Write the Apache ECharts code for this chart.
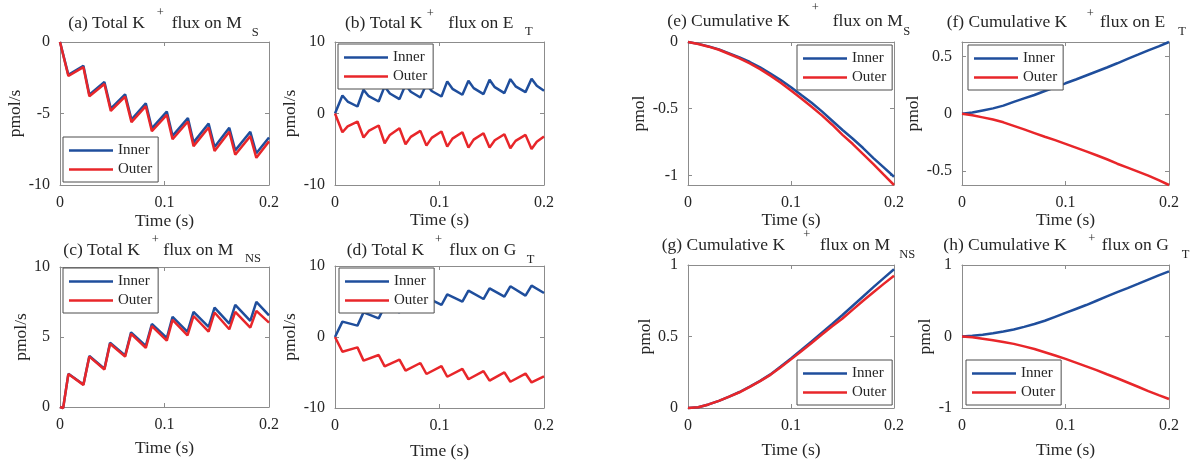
<!DOCTYPE html>
<html>
<head>
<meta charset="utf-8">
<script src="https://cdn.jsdelivr.net/npm/echarts@6/dist/echarts.min.js"></script>
<style>
  html, body { margin: 0; padding: 0; background: #ffffff; }
  #chart { width: 1190px; height: 461px; }
</style>
</head>
<body>
<div id="chart"></div>
<script>
// ---------- data (time in s) ----------
const xTicks = [0, 0.1, 0.2];

// (a) total K+ flux on M_S, pmol/s
const tA = [0, 0.008, 0.0224, 0.0281, 0.0425, 0.0486, 0.0623, 0.0684, 0.0821, 0.0879, 0.1022, 0.1077, 0.1224, 0.1278, 0.1422, 0.1479, 0.162, 0.1677, 0.1821, 0.1879, 0.2];
const innerA = [0, -2.3, -1.66, -3.68, -2.8, -4.66, -3.66, -5.42, -4.29, -6.04, -4.87, -6.56, -5.32, -7.02, -5.7, -7.34, -6.0, -7.58, -6.28, -7.78, -6.68];
const outerA = [0, -2.38, -1.76, -3.8, -2.94, -4.82, -3.82, -5.6, -4.49, -6.24, -5.09, -6.8, -5.56, -7.28, -5.98, -7.62, -6.28, -7.88, -6.58, -8.1, -6.95];
const ticksA = [-10, -5, 0];

// (b) total K+ flux on E_T, pmol/s
const tB = [0, 0.0071, 0.0121, 0.0215, 0.0273, 0.0323, 0.0418, 0.0475, 0.0525, 0.0617, 0.0675, 0.0725, 0.0817, 0.0875, 0.0925, 0.1019, 0.1074, 0.1124, 0.1219, 0.1277, 0.1327, 0.1421, 0.1479, 0.1529, 0.1621, 0.1678, 0.1728, 0.1823, 0.1881, 0.1931, 0.2];
const innerB = [0, 2.52, 1.67, 0.98, 3.32, 2.42, 1.68, 3.79, 2.8, 2.01, 4.02, 3.04, 2.24, 4.1, 3.15, 2.38, 4.49, 3.45, 2.62, 4.58, 3.55, 2.71, 4.72, 3.68, 2.85, 4.81, 3.8, 2.99, 4.86, 3.88, 3.18];
const outerB = [0, -2.62, -1.8, -1.12, -3.36, -2.44, -1.68, -4.16, -3.0, -2.06, -4.3, -3.27, -2.43, -4.49, -3.41, -2.52, -4.63, -3.52, -2.62, -4.77, -3.66, -2.76, -4.77, -3.74, -2.9, -4.86, -3.83, -2.99, -4.95, -3.95, -3.22];
const ticksB = [-10, 0, 10];

// (c) total K+ flux on M_NS, pmol/s
const tC = [0, 0.003, 0.008, 0.0224, 0.0281, 0.0425, 0.0479, 0.0623, 0.068, 0.0821, 0.0879, 0.1022, 0.1077, 0.122, 0.1278, 0.1422, 0.1479, 0.162, 0.1677, 0.1821, 0.1879, 0.2];
const innerC = [0, -0.08, 2.37, 1.6, 3.64, 2.73, 4.59, 3.68, 5.33, 4.37, 5.93, 4.93, 6.44, 5.36, 6.79, 5.72, 7.1, 5.96, 7.3, 6.15, 7.51, 6.55];
const outerC = [0, -0.08, 2.35, 1.58, 3.6, 2.68, 4.52, 3.6, 5.22, 4.22, 5.78, 4.74, 6.22, 5.12, 6.5, 5.38, 6.75, 5.55, 6.79, 5.67, 6.87, 6.03];
const ticksC = [0, 5, 10];

// (d) total K+ flux on G_T, pmol/s
const tD = [0, 0.0071, 0.0215, 0.0273, 0.0418, 0.0475, 0.0617, 0.0675, 0.0817, 0.0875, 0.1019, 0.1074, 0.1219, 0.1277, 0.1421, 0.1479, 0.1621, 0.1678, 0.1823, 0.1881, 0.2];
const innerD = [0, 2.16, 1.6, 3.47, 2.63, 4.32, 3.47, 5.0, 4.0, 5.58, 4.51, 6.0, 4.98, 6.53, 5.35, 6.85, 5.68, 7.14, 5.82, 7.23, 6.2];
const outerD = [0, -2.07, -1.46, -3.33, -2.54, -4.13, -3.19, -4.74, -3.66, -5.21, -4.1, -5.6, -4.5, -5.95, -4.8, -6.15, -4.98, -6.3, -5.15, -6.4, -5.54];
const ticksD = [-10, 0, 10];

// cumulative K+ flux, pmol
const tCum = [0, 0.01, 0.02, 0.03, 0.04, 0.05, 0.06, 0.07, 0.08, 0.09, 0.1, 0.11, 0.12, 0.13, 0.14, 0.15, 0.16, 0.17, 0.18, 0.19, 0.2];
const innerE = [0, -0.014, -0.033, -0.055, -0.085, -0.115, -0.15, -0.19, -0.237, -0.285, -0.34, -0.398, -0.455, -0.52, -0.59, -0.66, -0.725, -0.795, -0.87, -0.94, -1.01];
const outerE = [0, -0.015, -0.035, -0.058, -0.09, -0.122, -0.16, -0.203, -0.252, -0.305, -0.364, -0.423, -0.485, -0.55, -0.62, -0.696, -0.765, -0.84, -0.915, -0.995, -1.072];
const ticksE = [-1, -0.5, 0];
const innerF = [0, 0.012, 0.03, 0.048, 0.072, 0.105, 0.135, 0.165, 0.2, 0.232, 0.267, 0.3, 0.335, 0.37, 0.405, 0.442, 0.48, 0.517, 0.555, 0.59, 0.628];
const outerF = [0, -0.013, -0.031, -0.05, -0.074, -0.105, -0.136, -0.168, -0.2, -0.23, -0.262, -0.295, -0.328, -0.362, -0.397, -0.436, -0.47, -0.505, -0.54, -0.58, -0.622];
const ticksF = [-0.5, 0, 0.5];
const innerG = [0, 0.005, 0.025, 0.05, 0.08, 0.112, 0.15, 0.19, 0.235, 0.29, 0.346, 0.405, 0.465, 0.527, 0.588, 0.65, 0.715, 0.78, 0.845, 0.908, 0.97];
const outerG = [0, 0.005, 0.025, 0.05, 0.08, 0.11, 0.148, 0.188, 0.232, 0.285, 0.34, 0.397, 0.455, 0.514, 0.572, 0.626, 0.688, 0.75, 0.81, 0.868, 0.925];
const ticksG = [0, 0.5, 1];
const innerH = [0, 0.01, 0.025, 0.045, 0.07, 0.098, 0.135, 0.175, 0.22, 0.275, 0.33, 0.385, 0.44, 0.5, 0.56, 0.62, 0.677, 0.735, 0.795, 0.855, 0.91];
const outerH = [0, -0.012, -0.03, -0.052, -0.076, -0.103, -0.138, -0.175, -0.22, -0.265, -0.313, -0.365, -0.417, -0.47, -0.528, -0.584, -0.643, -0.703, -0.763, -0.82, -0.874];
const ticksH = [-1, 0, 1];

const seriesNames = ['Inner', 'Outer'];

// ---------- styling ----------
const FONT = 'Liberation Serif';
const TEXT = '#262626';
const BOX = '#8c8c8c';
const BLUE = '#1f4e9c';
const RED = '#e8262a';

// panel layout: plot box, axis limits, label gaps, legend spot, title pieces
const panels = [
  { t: tA, inner: innerA, outer: outerA, ticks: ticksA, yMin: -10, yMax: 0, yName: 'pmol/s',
    grid: { left: 60, top: 42, width: 209, height: 143 }, yGap: 31, xGap: 27, legend: { left: 63, top: 137 },
    title: [['(a) Total K', 68.3, 23.5, 'm'], ['+', 156.7, 13, 's'], ['flux on M', 171.7, 23.5, 'm'], ['S', 251.7, 33, 's']] },
  { t: tB, inner: innerB, outer: outerB, ticks: ticksB, yMin: -10, yMax: 10, yName: 'pmol/s',
    grid: { left: 335, top: 42, width: 209, height: 143 }, yGap: 32, xGap: 26, legend: { left: 338, top: 44 },
    title: [['(b) Total K', 345, 23.5, 'm'], ['+', 426.7, 14, 's'], ['flux on E', 448.3, 23.5, 'm'], ['T', 525, 32, 's']] },
  { t: tC, inner: innerC, outer: outerC, ticks: ticksC, yMin: 0, yMax: 10, yName: 'pmol/s',
    grid: { left: 60, top: 267, width: 209, height: 140 }, yGap: 29, xGap: 32, legend: { left: 63, top: 268 },
    title: [['(c) Total K', 63.3, 250, 'm'], ['+', 151.7, 240, 's'], ['flux on M', 163.3, 250, 'm'], ['NS', 245, 258.5, 's']] },
  { t: tD, inner: innerD, outer: outerD, ticks: ticksD, yMin: -10, yMax: 10, yName: 'pmol/s',
    grid: { left: 335, top: 266, width: 209, height: 142 }, yGap: 33, xGap: 34, legend: { left: 339, top: 268 },
    title: [['(d) Total K', 346.7, 250, 'm'], ['+', 435, 240, 's'], ['flux on G', 449.3, 250, 'm'], ['T', 526.7, 260, 's']] },
  { t: tCum, inner: innerE, outer: outerE, ticks: ticksE, yMin: -1.072, yMax: 0, yName: 'pmol',
    grid: { left: 688, top: 42, width: 206, height: 143 }, yGap: 31, xGap: 24, legend: { left: 797, top: 45 },
    title: [['(e) Cumulative K', 667.3, 21, 'm'], ['+', 811.7, 8, 's'], ['flux on M', 832.7, 21, 'm'], ['S', 903.3, 32, 's']] },
  { t: tCum, inner: innerF, outer: outerF, ticks: ticksF, yMin: -0.622, yMax: 0.628, yName: 'pmol',
    grid: { left: 962, top: 42, width: 207, height: 143 }, yGap: 38, xGap: 26, legend: { left: 968, top: 45 },
    title: [['(f) Cumulative K', 946.7, 22, 'm'], ['+', 1086.7, 14, 's'], ['flux on E', 1100, 22, 'm'], ['T', 1178.3, 32, 's']] },
  { t: tCum, inner: innerG, outer: outerG, ticks: ticksG, yMin: 0, yMax: 1, yName: 'pmol',
    grid: { left: 688, top: 265, width: 206, height: 143 }, yGap: 31, xGap: 33, legend: { left: 797, top: 360 },
    title: [['(g) Cumulative K', 661.7, 245, 'm'], ['+', 803.3, 235, 's'], ['flux on M', 820, 245, 'm'], ['NS', 899.3, 255, 's']] },
  { t: tCum, inner: innerH, outer: outerH, ticks: ticksH, yMin: -1, yMax: 1, yName: 'pmol',
    grid: { left: 962, top: 265, width: 207, height: 143 }, yGap: 24, xGap: 33, legend: { left: 966, top: 360 },
    title: [['(h) Cumulative K', 943.3, 245, 'm'], ['+', 1088.3, 239, 's'], ['flux on G', 1101.7, 245, 'm'], ['T', 1181.7, 255, 's']] }
];

const zip = (xs, ys) => xs.map((x, i) => [x, ys[i]]);

const boxLine = { show: true, onZero: false, lineStyle: { color: BOX, width: 1 } };
const tickStyle = (vals) => ({ show: true, inside: true, length: 4, lineStyle: { color: BOX, width: 1 }, customValues: vals });

const grids = [], xAxes = [], yAxes = [], series = [], legends = [], graphics = [];

panels.forEach((p, i) => {
  grids.push(Object.assign({ containLabel: false }, p.grid));

  // bottom and top time axes
  xAxes.push({
    type: 'value', gridIndex: i, min: 0, max: 0.2, position: 'bottom',
    axisLine: boxLine, axisTick: tickStyle(xTicks), splitLine: { show: false },
    axisLabel: { customValues: xTicks, fontFamily: FONT, fontSize: 16, color: TEXT, margin: 10 },
    name: 'Time (s)', nameLocation: 'middle', nameGap: p.xGap,
    nameTextStyle: { fontFamily: FONT, fontSize: 17.5, color: TEXT }
  });
  xAxes.push({
    type: 'value', gridIndex: i, min: 0, max: 0.2, position: 'top',
    axisLine: boxLine, axisTick: tickStyle(xTicks), splitLine: { show: false },
    axisLabel: { show: false }
  });

  // left and right value axes
  yAxes.push({
    type: 'value', gridIndex: i, min: p.yMin, max: p.yMax, position: 'left',
    axisLine: boxLine, axisTick: tickStyle(p.ticks), splitLine: { show: false },
    axisLabel: { customValues: p.ticks, fontFamily: FONT, fontSize: 16, color: TEXT, margin: 10 },
    name: p.yName, nameLocation: 'middle', nameGap: p.yGap,
    nameTextStyle: { fontFamily: FONT, fontSize: 17.5, color: TEXT }
  });
  yAxes.push({
    type: 'value', gridIndex: i, min: p.yMin, max: p.yMax, position: 'right',
    axisLine: boxLine, axisTick: tickStyle(p.ticks), splitLine: { show: false },
    axisLabel: { show: false }
  });

  [[p.inner, BLUE, seriesNames[0]], [p.outer, RED, seriesNames[1]]].forEach(([vals, color, name], k) => {
    series.push({
      type: 'line', name: name, xAxisIndex: 2 * i, yAxisIndex: 2 * i,
      data: zip(p.t, vals), symbol: 'none', showSymbol: false, clip: false,
      lineStyle: { color: color, width: 2.5 }, itemStyle: { color: color },
      z: 2 + k, animation: false
    });
  });

  legends.push({
    data: seriesNames, orient: 'vertical', left: p.legend.left, top: p.legend.top,
    icon: 'rect', itemWidth: 44, itemHeight: 2.5, itemGap: 4, padding: [6, 6, 5, 6],
    backgroundColor: '#ffffff', borderColor: '#4d4d4d', borderWidth: 1, borderRadius: 0,
    selectedMode: false, textStyle: { fontFamily: FONT, fontSize: 15, color: TEXT }
  });

  p.title.forEach(([text, x, y, kind]) => {
    graphics.push({
      type: 'text', x: x, y: y, silent: true,
      style: {
        text: text, fill: TEXT, fontFamily: FONT,
        fontSize: kind === 'm' ? 17.5 : 12.5,
        align: 'left', verticalAlign: 'middle'
      }
    });
  });
});

const chart = echarts.init(document.getElementById('chart'), null, { renderer: 'canvas' });
chart.setOption({
  animation: false,
  backgroundColor: '#ffffff',
  grid: grids,
  xAxis: xAxes,
  yAxis: yAxes,
  legend: legends,
  series: series,
  graphic: graphics
});
</script>
</body>
</html>
